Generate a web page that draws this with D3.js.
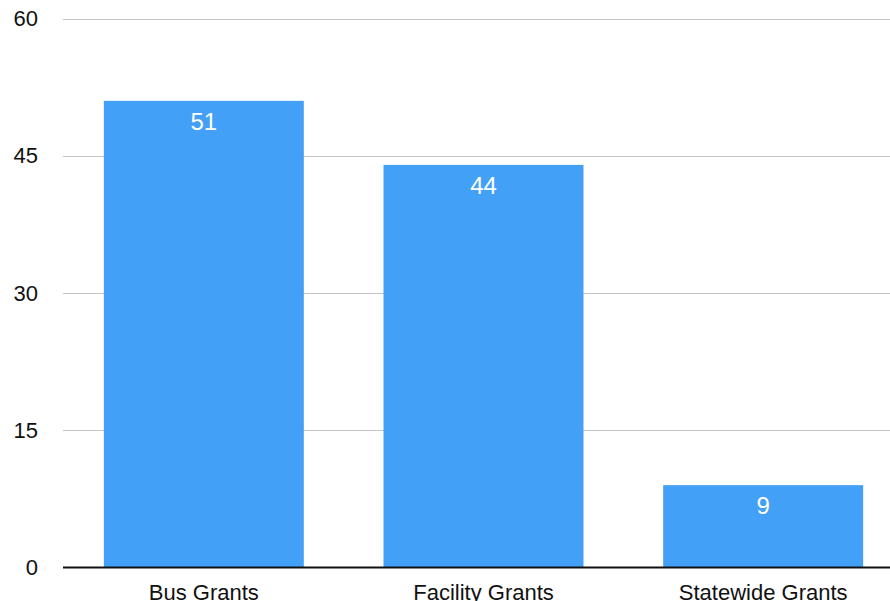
<!DOCTYPE html>
<html><head><meta charset="utf-8">
<script src="https://cdn.jsdelivr.net/npm/d3@7"></script>
<style>body{margin:0;background:#fff;}svg{display:block;font-family:"Liberation Sans",Arial,Helvetica,sans-serif;}</style>
</head><body>
<svg id="c" width="890" height="601"></svg>
<script>
const categories = ["Bus Grants", "Facility Grants", "Statewide Grants"];
const values = [51, 44, 9];
const yTicks = [0, 15, 30, 45, 60];

const svg = d3.select("#c");
const x = d3.scaleBand().domain(categories).range([64, 903]).paddingInner(0.285).paddingOuter(0.1425);
const y = d3.scaleLinear().domain([0, 60]).range([567.5, 18.5]);

// gridlines
svg.append("g").selectAll("line").data(yTicks.filter(d => d > 0)).join("line")
  .attr("x1", 63).attr("x2", 890)
  .attr("y1", d => Math.round(y(d)) + 0.5).attr("y2", d => Math.round(y(d)) + 0.5)
  .attr("stroke", "#c4c4c4").attr("stroke-width", 1);

// y tick labels
const yAxis = d3.axisLeft(y).tickValues(yTicks).tickSize(0).tickPadding(0);
const gy = svg.append("g").attr("transform", "translate(38,0)").call(yAxis);
gy.select(".domain").remove();
gy.selectAll("text").attr("font-size", 22).attr("fill", "#111").attr("font-family", "Liberation Sans,Arial,sans-serif");

// bars
svg.append("g").selectAll("rect").data(values).join("rect")
  .attr("x", (d, i) => x(categories[i]))
  .attr("width", x.bandwidth())
  .attr("y", d => y(d))
  .attr("height", d => y(0) - y(d))
  .attr("fill", "#42a0f6");

// value labels
svg.append("g").selectAll("text").data(values).join("text")
  .attr("x", (d, i) => x(categories[i]) + x.bandwidth() / 2)
  .attr("y", d => y(d) + 29)
  .attr("text-anchor", "middle")
  .attr("font-size", 24)
  .attr("fill", "#fff")
  .text(d => d);

// baseline
svg.append("line").attr("x1", 63).attr("x2", 890).attr("y1", y(0)).attr("y2", y(0))
  .attr("stroke", "#111").attr("stroke-width", 2);

// x axis labels
const xAxis = d3.axisBottom(x).tickSize(0).tickPadding(0);
const gx = svg.append("g").attr("transform", "translate(0,584)").call(xAxis);
gx.select(".domain").remove();
gx.selectAll("text").attr("font-size", 22).attr("fill", "#111").attr("font-family", "Liberation Sans,Arial,sans-serif");
</script>
</body></html>
